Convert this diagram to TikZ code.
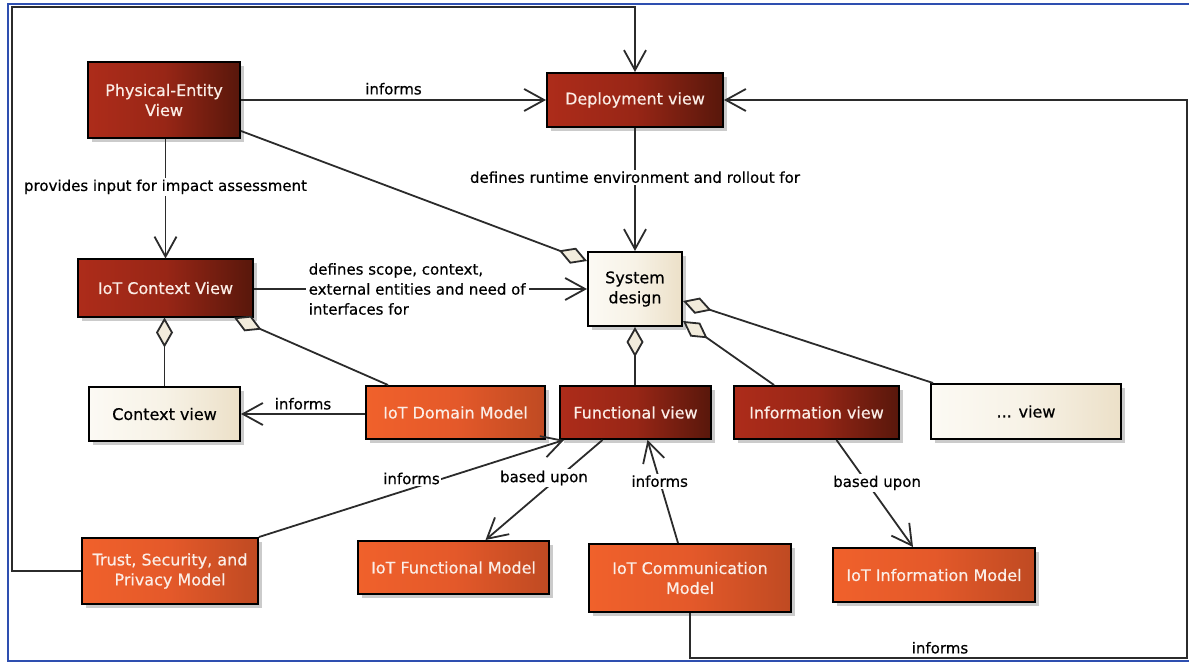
\documentclass[tikz,border=0pt]{standalone}
\usepackage{fontspec}
\setmainfont{DejaVu Sans}[FakeBold=0.5]
\usetikzlibrary{arrows.meta,shadows}

\definecolor{linec}{HTML}{2B2B2B}
\definecolor{redL}{HTML}{AD2C1A}
\definecolor{redM}{HTML}{982616}
\definecolor{redR}{HTML}{58170B}
\definecolor{orgL}{HTML}{F0612B}
\definecolor{orgM}{HTML}{E4592A}
\definecolor{orgR}{HTML}{BF4A22}
\definecolor{crmL}{HTML}{FCFAF4}
\definecolor{crmM}{HTML}{F7F2E6}
\definecolor{crmR}{HTML}{ECE0C8}
\definecolor{dfill}{HTML}{F2ECDC}
\definecolor{framec}{HTML}{2E4FB0}
\definecolor{boxtext}{HTML}{FBEDE6}

\begin{document}
\begin{tikzpicture}[x=1pt,y=-1pt,
  box/.style={draw=black, line width=2pt,
    drop shadow={shadow xshift=4pt, shadow yshift=-4pt, fill=black!45, opacity=0.45},
    font=\fontsize{16}{20}\selectfont, align=center, inner sep=2pt},
  viewbox/.style={box, left color=redL, right color=redR, middle color=redM, text=boxtext},
  modelbox/.style={box, left color=orgL, right color=orgR, middle color=orgM, text=boxtext},
  plainbox/.style={box, left color=crmL, right color=crmR, middle color=crmM, text=black},
  conn/.style={draw=linec, line width=1.8pt},
  arr/.style={conn, arrows={-Straight Barb[length=20pt,width=22pt]}},
  agg/.style={conn, arrows={Diamond[length=30pt,width=17pt,fill=dfill]-}},
  lbl/.style={fill=white, inner sep=1.5pt, font=\fontsize{15}{18}\selectfont, text=black}
]
\useasboundingbox (0,0) rectangle (1189,663);

% outer frame
\draw[framec, line width=2pt] (1189,4) -- (8,4) -- (8,661) -- (1189,661);

% views
\node[viewbox, minimum width=152pt, minimum height=76pt] (PE) at (164,100) {Physical-Entity\\View};
\node[viewbox, minimum width=176pt, minimum height=54pt] (Dep) at (635,100) {Deployment view};
\node[viewbox, minimum width=175pt, minimum height=57pt] (Ctx) at (165.5,288) {IoT Context View};
\node[plainbox, minimum width=94pt, minimum height=74pt] (Sys) at (635,289) {System\\design};
\node[plainbox, minimum width=151pt, minimum height=54pt] (CtxV) at (164.5,414) {Context view};
\node[modelbox, minimum width=179pt, minimum height=53pt] (Dom) at (455.5,412.5) {IoT Domain Model};
\node[viewbox, minimum width=151pt, minimum height=53pt] (Fun) at (635.5,412.5) {Functional view};
\node[viewbox, minimum width=165pt, minimum height=53pt] (Inf) at (816.5,412.5) {Information view};
\node[plainbox, minimum width=190pt, minimum height=55pt] (Oth) at (1026,411.5) {... view};

% models
\node[modelbox, minimum width=176pt, minimum height=66pt] (Tru) at (170,571) {Trust, Security, and\\Privacy Model};
\node[modelbox, minimum width=191pt, minimum height=53pt] (IFM) at (453.5,567.5) {IoT Functional Model};
\node[modelbox, minimum width=202pt, minimum height=68pt] (ICM) at (690,578) {IoT Communication\\Model};
\node[modelbox, minimum width=202pt, minimum height=54pt] (IIM) at (934,575) {IoT Information Model};

% routing corners
\coordinate (tl) at (12,7);
\coordinate (br) at (1187,658);

% directed relations
\draw[arr] (PE.east) -- node[lbl, above=3pt, fill=none] {informs} (Dep.west);
\draw[arr] (PE.south -| Ctx.north) -- node[lbl, pos=0.4] {provides input for impact assessment} (Ctx.north);
\draw[arr] (Dep.south) -- node[lbl, pos=0.4] {defines runtime environment and rollout for} (Sys.north);
\draw[arr] (Ctx.east |- Sys.west) -- node[lbl, pos=0.49, align=left, inner sep=3pt, font=\fontsize{15}{20}\selectfont]
  {defines scope, context,\\external entities and need of\\interfaces for} (Sys.west);
\draw[arr] (Dom.west |- CtxV.east) -- node[lbl, above=2pt, fill=none] {informs} (CtxV.east);
\draw[arr] (Tru.north east) -- node[lbl, pos=0.5, yshift=10pt] {informs} ([xshift=5pt]Fun.south west);
\draw[arr] ([xshift=-33pt]Fun.south) -- node[lbl, pos=0.5, yshift=12pt] {based upon} ([xshift=32pt]IFM.north);
\draw[arr] ([xshift=-12pt]ICM.north) -- node[lbl, pos=0.6] {informs} ([xshift=12pt]Fun.south);
\draw[arr] ([xshift=20pt]Inf.south) -- node[lbl, pos=0.4, xshift=10pt] {based upon} ([xshift=-21pt]IIM.north);

% long feedback routes into the deployment view
\draw[arr] (Tru.west) -- (Tru.west -| tl) -- (tl) -- (tl -| Dep.north) -- (Dep.north);
\draw[arr] (ICM.south) -- (ICM.south |- br) -- node[lbl, above=2pt, fill=none, pos=0.503] {informs} (br) -- (br |- Dep.east) -- (Dep.east);

% aggregations
\draw[agg] ([yshift=-10pt]Sys.north west) -- ([yshift=8pt]PE.south east);
\draw[agg] (Ctx.south -| CtxV.north) -- (CtxV.north);
\draw[agg] ([xshift=-20pt]Ctx.south east) -- ([xshift=23pt]Dom.north west);
\draw[agg] (Sys.south) -- (Sys.south |- Fun.north);
\draw[agg] ([yshift=6pt]Sys.south east) -- ([xshift=41pt]Inf.north west);
\draw[agg] ([yshift=-50pt]Sys.north east) -- ([xshift=3pt]Oth.north west);
\end{tikzpicture}
\end{document}
